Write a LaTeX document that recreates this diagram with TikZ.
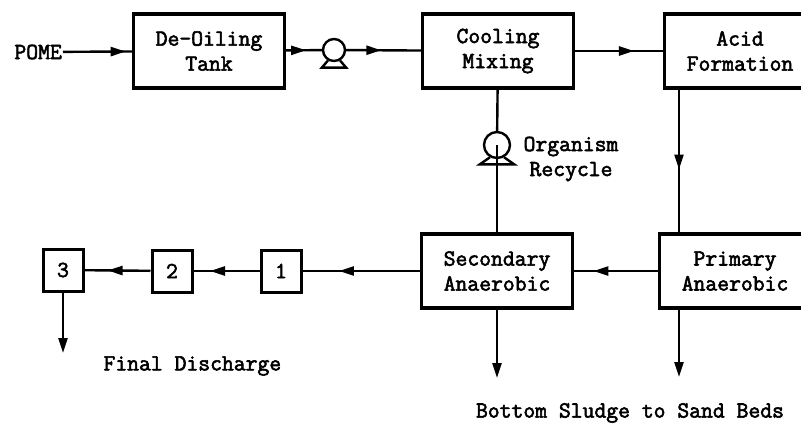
\documentclass[tikz,border=0pt]{standalone}
\usepackage{fontspec}
\setmonofont{Latin Modern Mono}[FakeBold=2.5]
\usetikzlibrary{arrows.meta,decorations.markings}
\begin{document}
\begin{tikzpicture}[x=1pt,y=-1pt,
  every node/.style={font=\ttfamily\bfseries\fontsize{23}{25}\selectfont},
  blk/.style={draw,line width=3.2pt,minimum width=151pt,minimum height=74pt,align=center,inner sep=0pt},
  sq/.style={draw,line width=3pt,minimum width=40pt,minimum height=42pt,inner sep=0pt},
  flow/.style={line width=2.4pt},
  midarr/.style={postaction={decorate},decoration={markings,mark=at position #1 with {\arrow{Triangle[length=15pt,width=9pt]}}}},
  endarr/.style={-{Triangle[length=15pt,width=9pt]}},
  pmp/.style={draw,circle,line width=2.4pt,fill=white,inner sep=0pt,minimum size=#1}
]
\useasboundingbox (0,0) rectangle (801,424);
\clip (0,0) rectangle (801,424);
\fill[white] (0,0) rectangle (801,424);

\node[anchor=east,inner sep=1pt] (pome) at (63,52) {POME};
\node[blk] (deoil) at (209,51) {De-Oiling\\Tank};
\node[pmp=22pt] (pa) at (334,50) {};
\node[blk] (cool) at (498,51) {Cooling\\Mixing};
\node[blk] (acid) at (740,51) {Acid\\Formation};
\node[pmp=26pt] (pb) at (497,145) {};
\node[align=center] (org) at (571,159) {Organism\\Recycle};
\node[blk] (sec) at (497,271) {Secondary\\Anaerobic};
\node[blk] (prim) at (735,271) {Primary\\Anaerobic};
\node[sq] (b1) at (281,271) {1};
\node[sq] (b2) at (172,271) {2};
\node[sq] (b3) at (63,270) {3};
\node[anchor=west] (fd) at (100,366) {Final Discharge};
\node (bs) at (630,413) {Bottom Sludge to Sand Beds};

\coordinate (ax) at (679,0);
\coordinate (e3) at (62,353);
\coordinate (esec) at (497,378);
\coordinate (eprim) at (679,377);

\draw[flow,midarr=0.91] (pome) -- (deoil);
\draw[flow,midarr=0.56] (deoil) -- (pa);
\draw[flow,midarr=0.47] (pa) -- (cool);
\draw[flow,midarr=0.67] (cool) -- (acid);
\draw[flow,midarr=0.56] (acid.south -| ax) -- (prim.north -| ax);
\draw[flow] (cool) -- (pb);
\draw[flow] (pb.center) -- (sec);
\draw[flow,midarr=0.77] (prim) -- (sec);
\draw[flow,midarr=0.69] (sec) -- (b1);
\draw[flow,midarr=0.75] (b1) -- (b2);
\draw[flow,midarr=0.65] (b2) -- (b3);
\draw[flow,endarr] (b3) -- (b3 |- e3);
\draw[flow,endarr] (sec) -- (sec |- esec);
\draw[flow,endarr] (prim.south -| ax) -- (ax |- eprim);

\draw[line width=2.4pt] (pa.240) -- ([shift={(-6pt,-7pt)}]pa.240) -- ([shift={(6pt,-7pt)}]pa.300) -- (pa.300);
\draw[line width=2.4pt] (pb.240) -- ([shift={(-10pt,-7pt)}]pb.240) -- ([shift={(10pt,-7pt)}]pb.300) -- (pb.300);
\end{tikzpicture}
\end{document}
